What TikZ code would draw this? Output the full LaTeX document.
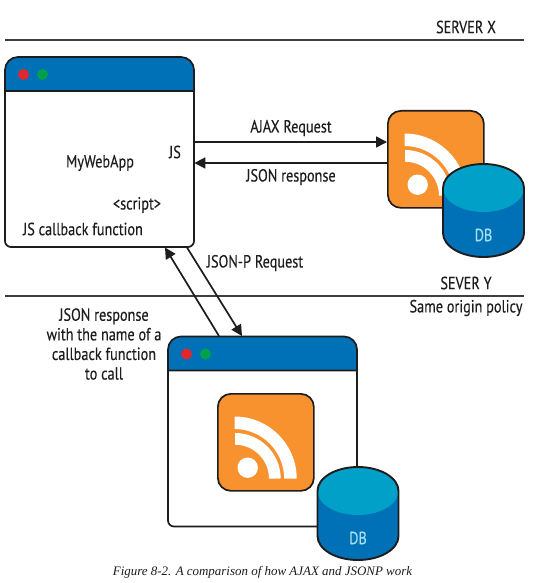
\documentclass[tikz,border=0pt]{standalone}
\usepackage{fontspec}
\setmainfont{Liberation Serif}
\newfontfamily\labelfont[FakeStretch=0.81,FakeBold=0.25]{PT Sans}
\definecolor{barblue}{HTML}{0071B6}
\definecolor{dbtop}{HTML}{00A0C8}
\definecolor{rssorange}{HTML}{F7922F}
\definecolor{dotred}{HTML}{E4272F}
\definecolor{dotgreen}{HTML}{00A14B}
\definecolor{ink}{HTML}{1E1C1D}
\definecolor{dbtext}{HTML}{A5E0F0}
\usetikzlibrary{arrows.meta,calc}
\tikzset{
  lbl/.style={font=\labelfont\fontsize{17.6}{19.6}\selectfont, text=ink, inner sep=0pt, align=center},
  rule/.style={draw=ink!85, line width=1.9pt},
  conn/.style={draw=ink, line width=1.7pt},
  arrowed/.style={conn, -{Triangle[length=11pt,width=11pt]}},
  winshape/.style={draw=ink, line width=1.7pt},
}
% name, left, top
\newcommand{\appwindow}[3]{%
  \node[anchor=north west, minimum width=189pt, minimum height=190pt, inner sep=0pt] (#1) at (#2,#3) {};
  \filldraw[winshape, fill=white] (#2,#3+30) -- (#2,#3+184) arc[start angle=180,end angle=270,radius=6pt]
    -- (#2+183,#3+190) arc[start angle=270,end angle=360,radius=6pt] -- (#2+189,#3+30);
  \filldraw[winshape, fill=barblue] (#2,#3+34) -- (#2,#3+13) arc[start angle=180,end angle=90,radius=13pt]
    -- (#2+176,#3) arc[start angle=90,end angle=0,radius=13pt] -- (#2+189,#3+34) -- cycle;
  \fill[dotred] (#2+18.5,#3+17.5) circle[radius=5.5pt];
  \fill[dotgreen] (#2+37.5,#3+17.5) circle[radius=5.5pt];
}
% name, left, top
\newcommand{\rssicon}[3]{%
  \node[draw=ink, line width=1.7pt, fill=rssorange, rounded corners=13pt, anchor=north west,
        minimum width=96pt, minimum height=97pt, inner sep=0pt] (#1) at (#2,#3) {};
  \fill[white] (#2+30.7,#3+74.7) circle[radius=10.2pt];
  \fill[white] (#2+17.5,#3+23.5) arc[start angle=90,end angle=0,radius=62.2pt]
    -- ++(-12.5,0) arc[start angle=0,end angle=90,radius=49.7pt] -- cycle;
  \fill[white] (#2+18,#3+40) arc[start angle=90,end angle=0,radius=45.7pt]
    -- ++(-11.7,0) arc[start angle=0,end angle=90,radius=34pt] -- cycle;
}
% name, left, top
\newcommand{\dbdrum}[3]{%
  \fill[barblue] (#2,#3+24) -- (#2,#3+69) arc[start angle=180,end angle=360,x radius=40.5pt,y radius=24pt]
    -- (#2+81,#3+24) arc[start angle=0,end angle=180,x radius=40.5pt,y radius=24pt] -- cycle;
  \fill[dbtop] (#2+40.5,#3+24) ellipse[x radius=40.5pt,y radius=24pt];
  \draw[ink, line width=1.9pt] (#2,#3+24) -- (#2,#3+69) arc[start angle=180,end angle=360,x radius=40.5pt,y radius=24pt]
    -- (#2+81,#3+24) arc[start angle=0,end angle=180,x radius=40.5pt,y radius=24pt] -- cycle;
  \node[lbl, text=dbtext] (#1) at (#2+40.5,#3+71) {DB};
}
\begin{document}
\begin{tikzpicture}[x=1pt,y=-1pt]
\useasboundingbox (0,0) rectangle (533,583);
\fill[white] (0,0) rectangle (533,583);

% separators
\coordinate (ruleAl) at (5,40);  \coordinate (ruleAr) at (524,40);
\coordinate (ruleBl) at (5,296); \coordinate (ruleBr) at (524,296);
\draw[rule] (ruleAl) -- (ruleAr);
\draw[rule] (ruleBl) -- (ruleBr);

% windows and icons
\appwindow{winA}{5}{57}
\appwindow{winB}{168}{336.5}
\rssicon{rssA}{387}{110}
\dbdrum{dbA}{443}{164}
\rssicon{rssB}{217}{393}
\dbdrum{dbB}{317.5}{467}

% connectors
\coordinate (ajaxS) at (winA.east |- 0,142);
\coordinate (ajaxE) at (rssA.west |- 0,142);
\coordinate (jsonS) at (rssA.west |- 0,163);
\coordinate (jsonE) at (winA.east |- 0,163);
\draw[arrowed] (ajaxS) -- (ajaxE);
\draw[arrowed] (jsonS) -- (jsonE);

\coordinate (jpS) at (187,247.5);
\coordinate (jpE) at (242,336);
\coordinate (jrS) at (219,336);
\coordinate (jrE) at (165,247.5);
\draw[arrowed] (jpS) -- (jpE);
\draw[arrowed] (jrS) -- (jrE);

% labels
\node[lbl] (serverx) at (466,27) {SERVER X};
\node[lbl] (severy) at (466,283) {SEVER Y};
\node[lbl] (sop) at (466,308) {Same origin policy};
\node[lbl] (ajaxl) at (291,128) {AJAX Request};
\node[lbl] (jsonl) at (291,177) {JSON response};
\node[lbl] (jsl) at (175,152) {JS};
\node[lbl] (mwa) at (100,163) {MyWebApp};
\node[lbl] (scr) at (137,205) {<script>};
\node[lbl] (cbk) at (83,229) {JS callback function};
\node[lbl] (jpl) at (255,263) {JSON-P Request};
\node[lbl] (respl) at (104,344) {JSON response\\with the name of a\\callback function\\to call};
\node[inner sep=0pt, font=\itshape\fontsize{12.95}{15}\selectfont, text=ink] (cap) at (262.5,572) {Figure 8-2. A comparison of how AJAX and JSONP work};
\end{tikzpicture}
\end{document}
